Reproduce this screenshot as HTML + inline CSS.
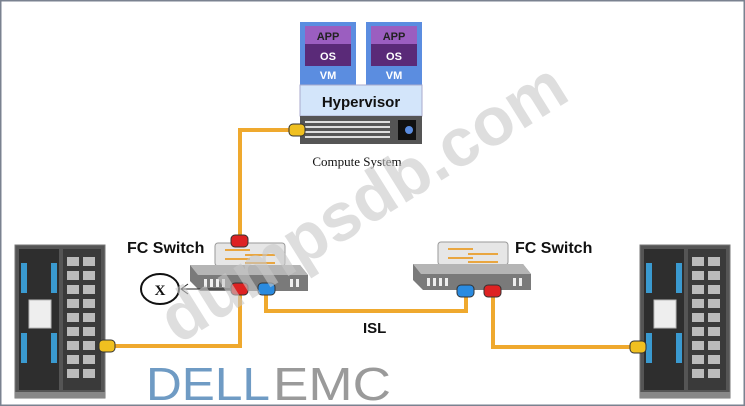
<!DOCTYPE html>
<html><head><style>
html,body{margin:0;padding:0;background:#fff;}
svg{display:block;}
text{font-family:"Liberation Sans",sans-serif;}
</style></head><body>
<svg width="745" height="406" viewBox="0 0 745 406" xmlns="http://www.w3.org/2000/svg">
<defs>
<g id="rack">
  <rect x="0" y="0" width="90" height="153" fill="#555" stroke="#777"/>
  <rect x="4" y="4" width="40" height="141" fill="#2e2e2e"/>
  <rect x="48" y="4" width="38" height="141" fill="#3a3a3a"/>
  <rect x="6" y="18" width="6" height="30" fill="#3a9ad0"/>
  <rect x="36" y="18" width="6" height="30" fill="#3a9ad0"/>
  <rect x="6" y="88" width="6" height="30" fill="#3a9ad0"/>
  <rect x="36" y="88" width="6" height="30" fill="#3a9ad0"/>
  <rect x="14" y="55" width="22" height="28" fill="#eee" stroke="#bbb"/>
  <g fill="#bbb">
    <rect x="52" y="12" width="12" height="9"/><rect x="68" y="12" width="12" height="9"/>
    <rect x="52" y="26" width="12" height="9"/><rect x="68" y="26" width="12" height="9"/>
    <rect x="52" y="40" width="12" height="9"/><rect x="68" y="40" width="12" height="9"/>
    <rect x="52" y="54" width="12" height="9"/><rect x="68" y="54" width="12" height="9"/>
    <rect x="52" y="68" width="12" height="9"/><rect x="68" y="68" width="12" height="9"/>
    <rect x="52" y="82" width="12" height="9"/><rect x="68" y="82" width="12" height="9"/>
    <rect x="52" y="96" width="12" height="9"/><rect x="68" y="96" width="12" height="9"/>
    <rect x="52" y="110" width="12" height="9"/><rect x="68" y="110" width="12" height="9"/>
    <rect x="52" y="124" width="12" height="9"/><rect x="68" y="124" width="12" height="9"/>
  </g>
  <rect x="0" y="147" width="90" height="6" fill="#888"/>
</g>
<g id="sw">
  <rect x="25" y="0" width="70" height="23" rx="3" fill="#e6e6e6" stroke="#999"/>
  <g stroke="#e9a640" stroke-width="2"><line x1="35" y1="7" x2="60" y2="7"/><line x1="55" y1="12" x2="85" y2="12"/><line x1="35" y1="16" x2="60" y2="16"/><line x1="55" y1="20" x2="85" y2="20"/></g>
  <polygon points="0,22 110,22 118,32 118,48 10,48 0,38" fill="#7a7a7a"/>
  <polygon points="0,22 110,22 118,32 8,32" fill="#b5b5b5"/>
  <g fill="#eee"><rect x="14" y="36" width="3" height="8"/><rect x="20" y="36" width="3" height="8"/><rect x="26" y="36" width="3" height="8"/><rect x="32" y="36" width="3" height="8"/><rect x="100" y="36" width="3" height="8"/><rect x="106" y="36" width="3" height="8"/></g>
</g>
</defs>
<rect x="0.5" y="0.5" width="744" height="405" fill="#fff" stroke="#7a8290" stroke-width="2"/>

<g fill="none" stroke="#efa92e" stroke-width="4">
  <polyline points="297,130 240,130 240,240"/>
  <polyline points="240,290 240,346 108,346"/>
  <polyline points="266,290 266,311 466,311 466,290"/>
  <polyline points="493,290 493,347 632,347"/>
</g>

<rect x="300" y="22" width="56" height="63" fill="#5b8de0"/>
<rect x="366" y="22" width="56" height="63" fill="#5b8de0"/>
<rect x="305" y="26" width="46" height="18" fill="#9b5ec0"/>
<rect x="305" y="44" width="46" height="22" fill="#5a2a78"/>
<rect x="371" y="26" width="46" height="18" fill="#9b5ec0"/>
<rect x="371" y="44" width="46" height="22" fill="#5a2a78"/>
<g font-weight="bold" font-size="11" fill="#fff" text-anchor="middle">
<text x="328" y="40" fill="#222">APP</text><text x="328" y="60">OS</text><text x="328" y="79">VM</text>
<text x="394" y="40" fill="#222">APP</text><text x="394" y="60">OS</text><text x="394" y="79">VM</text>
</g>
<rect x="300" y="85" width="122" height="31" fill="#d3e5fa" stroke="#aac"/>
<text x="361" y="107" text-anchor="middle" font-weight="bold" font-size="15" fill="#111">Hypervisor</text>
<rect x="300" y="116" width="122" height="28" fill="#555"/>
<g fill="#ddd"><rect x="305" y="121" width="85" height="2"/><rect x="305" y="126" width="85" height="2"/><rect x="305" y="131" width="85" height="2"/><rect x="305" y="136" width="85" height="2"/></g>
<rect x="398" y="120" width="18" height="20" fill="#111"/><circle cx="409" cy="130" r="4" fill="#5b8de0"/>
<rect x="289" y="124" width="16" height="12" rx="4" fill="#f0c020" stroke="#333"/>
<text x="357" y="166" text-anchor="middle" font-size="13" fill="#111" style="font-family:'Liberation Serif',serif">Compute System</text>

<use href="#rack" x="15" y="245"/>
<use href="#rack" x="640" y="245"/>
<rect x="99" y="340" width="16" height="12" rx="4" fill="#f0c020" stroke="#333"/>
<rect x="630" y="341" width="16" height="12" rx="4" fill="#f0c020" stroke="#333"/>

<use href="#sw" x="190" y="243"/>
<use href="#sw" x="413" y="242"/>
<rect x="231" y="235" width="17" height="12" rx="4" fill="#d22" stroke="#333"/>
<rect x="231" y="283" width="17" height="12" rx="4" fill="#d22" stroke="#333"/>
<rect x="258" y="283" width="17" height="12" rx="4" fill="#2a8be0" stroke="#333"/>
<rect x="457" y="285" width="17" height="12" rx="4" fill="#2a8be0" stroke="#333"/>
<rect x="484" y="285" width="17" height="12" rx="4" fill="#d22" stroke="#333"/>

<text x="127" y="253" font-weight="bold" font-size="16" fill="#111">FC Switch</text>
<text x="515" y="253" font-weight="bold" font-size="16" fill="#111">FC Switch</text>
<text x="363" y="333" font-weight="bold" font-size="15" fill="#111">ISL</text>

<line x1="230" y1="289" x2="181" y2="289" stroke="#222" stroke-width="1"/>
<polyline points="188,284 181,289 188,294" fill="none" stroke="#222"/>
<ellipse cx="160" cy="289" rx="19" ry="15" fill="#fff" stroke="#111" stroke-width="2"/>
<text x="160" y="295" text-anchor="middle" font-weight="bold" font-size="15" fill="#111" style="font-family:'Liberation Serif',serif">X</text>

<text x="146" y="400" font-size="46" fill="#6f9bc4" textLength="124" lengthAdjust="spacingAndGlyphs">DELL</text>
<text x="273" y="400" font-size="46" fill="#9a9a9a" textLength="118" lengthAdjust="spacingAndGlyphs">EMC</text>

<text x="0" y="0" transform="translate(178,345) rotate(-32)" font-size="68" font-weight="bold" fill="#c8c8c8" fill-opacity="0.6">dumpsdb.com</text>
</svg>
</body></html>
